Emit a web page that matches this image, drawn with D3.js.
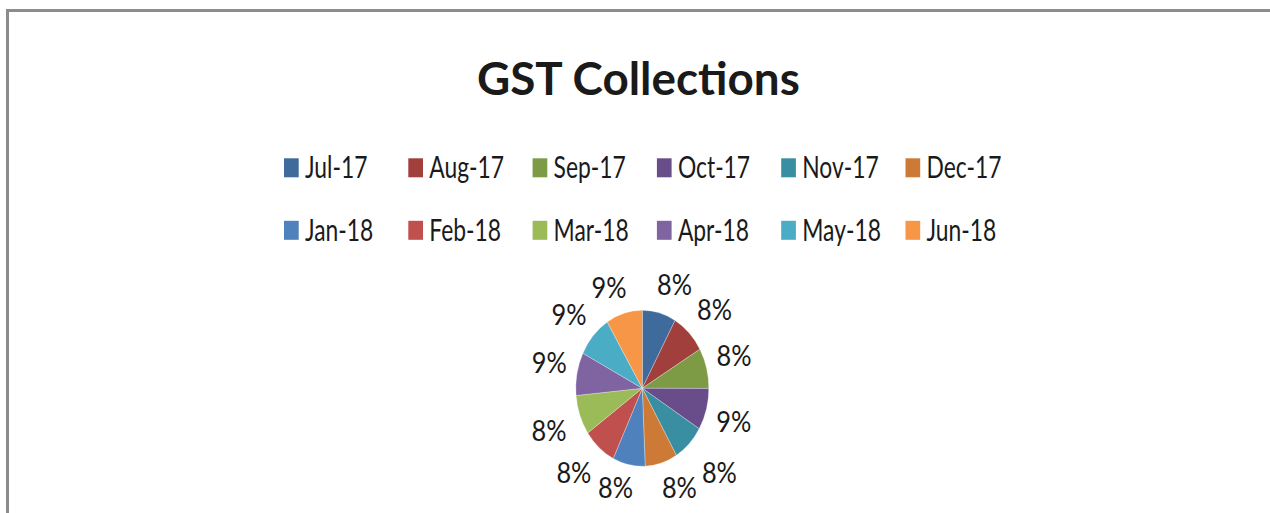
<!DOCTYPE html>
<html>
<head>
<meta charset="utf-8">
<script src="https://cdn.jsdelivr.net/npm/d3@7/dist/d3.min.js"></script>
<style>
  body { margin: 0; background: #fff; }
  svg { display: block; }
  text { font-family: Lato, "Open Sans", sans-serif; fill: #1a1a1a; }
</style>
</head>
<body>
<svg id="chart" width="1270" height="513"></svg>
<script>
// GST collections, Rs crore
var months = ["Jul-17", "Aug-17", "Sep-17", "Oct-17", "Nov-17", "Dec-17",
              "Jan-18", "Feb-18", "Mar-18", "Apr-18", "May-18", "Jun-18"];
var collections = [88529, 91243, 90612, 93287, 84012, 84897,
                   85174, 87625, 88812, 96009, 94484, 95389];
var sliceColors = ["#3f6a9c", "#a03f3c", "#7d9a44", "#684d8a", "#3a8ea1", "#cd7a36",
                   "#4f81bd", "#c0504d", "#9bbb59", "#8064a2", "#4bacc6", "#f79646"];
var chartTitle = "GST Collections";

var width = 1270, height = 513;
var svg = d3.select("#chart");

// chart frame (only top and left edges are inside the picture)
svg.append("rect")
    .attr("x", 7.5).attr("y", 10.5)
    .attr("width", 1400).attr("height", 700)
    .attr("fill", "#fff")
    .attr("stroke", "#8c8c8c")
    .attr("stroke-width", 3);

// text in the picture is squeezed sideways, so scale each kind to a measured width
function squeeze(fontSize, weight, sample, targetWidth) {
    var probe = svg.append("text")
        .style("font-size", fontSize)
        .style("font-weight", weight)
        .text(sample);
    var w = probe.node().getComputedTextLength();
    probe.remove();
    return targetWidth / w;
}

// Title
var titleSx = squeeze("46px", "bold", chartTitle, 323);
svg.append("text")
    .style("font-size", "46px")
    .style("font-weight", "bold")
    .attr("text-anchor", "middle")
    .attr("transform", "translate(638.4,95) scale(" + titleSx + ",1)")
    .text(chartTitle);

// Legend, two rows of six
var legendX = d3.scaleLinear().domain([0, 1]).range([284, 408.3]);
var legendY = d3.scaleLinear().domain([0, 1]).range([178, 240.5]);
var legendFont = "30.5px";
var legendSx = squeeze(legendFont, "normal", "Dec-17", 75);

var item = svg.selectAll("g.legend-item")
    .data(months)
    .enter().append("g")
    .attr("class", "legend-item")
    .attr("transform", function(d, i) {
        return "translate(" + legendX(i % 6) + "," + legendY(Math.floor(i / 6)) + ")";
    });

item.append("rect")
    .attr("x", 0).attr("y", -19.7)
    .attr("width", 14.7).attr("height", 19)
    .attr("fill", function(d, i) { return sliceColors[i]; });

item.append("text")
    .style("font-size", legendFont)
    .attr("transform", "translate(21,0) scale(" + legendSx + ",1)")
    .text(function(d) { return d; });

// Pie (drawn as an ellipse, like the stretched picture)
var cx = 642.3, cy = 388.3;
var ry = 78, rx = 66.5, kx = rx / ry;

var pie = d3.pie().sort(null).value(function(d) { return d; });
var arcs = pie(collections);
var arc = d3.arc().innerRadius(0).outerRadius(ry);

var pieG = svg.append("g")
    .attr("transform", "translate(" + cx + "," + cy + ") scale(" + kx + ",1)");

pieG.selectAll("path")
    .data(arcs)
    .enter().append("path")
    .attr("d", arc)
    .attr("fill", function(d, i) { return sliceColors[i]; })
    .attr("stroke", "#fff")
    .attr("stroke-opacity", 0.5)
    .attr("stroke-width", 0.6);

// Percent labels, outside end: label box sits just past the rim
var total = d3.sum(collections);
var fmt = d3.format(".0%");
var labelFont = 28;
var gap = 10, halfW = 18, halfH = 15;

function soft(v) { return Math.sign(v) * Math.pow(Math.abs(v), 0.3); }

var labels = arcs.map(function(d) {
    var a = (d.startAngle + d.endAngle) / 2;
    var s = Math.sin(a), c = -Math.cos(a);
    var x = (rx + gap) * s + halfW * soft(s);
    var y = (ry + gap) * c + halfH * soft(c);
    return { x: x, y: y, ux: s * kx, uy: c, text: fmt(d.data / total) };
});

// crowded labels move out along their own radius
var padW = 40, padH = 42;
for (var iter = 0; iter < 300; iter++) {
    for (var i = 0; i < labels.length; i++) {
        for (var j = i + 1; j < labels.length; j++) {
            var A = labels[i], B = labels[j];
            var ox = padW - Math.abs(B.x - A.x), oy = padH - Math.abs(B.y - A.y);
            if (ox > 0 && oy > 0) {
                var push = Math.min(ox, oy) * 0.1;
                A.x += A.ux * push; A.y += A.uy * push;
                B.x += B.ux * push; B.y += B.uy * push;
            }
        }
    }
}

// keep labels inside the picture
var maxY = height - cy - halfH - 10;
labels.forEach(function(l) { if (l.y > maxY) l.y = maxY; });

var labelSx = squeeze(labelFont + "px", "normal", "8%", 35);

svg.selectAll("text.label")
    .data(labels)
    .enter().append("text")
    .attr("class", "label")
    .style("font-size", labelFont + "px")
    .attr("text-anchor", "middle")
    .attr("transform", function(d) {
        return "translate(" + (cx + d.x) + "," + (cy + d.y + labelFont * 0.36) + ") scale(" + labelSx + ",1)";
    })
    .text(function(d) { return d.text; });
</script>
</body>
</html>
